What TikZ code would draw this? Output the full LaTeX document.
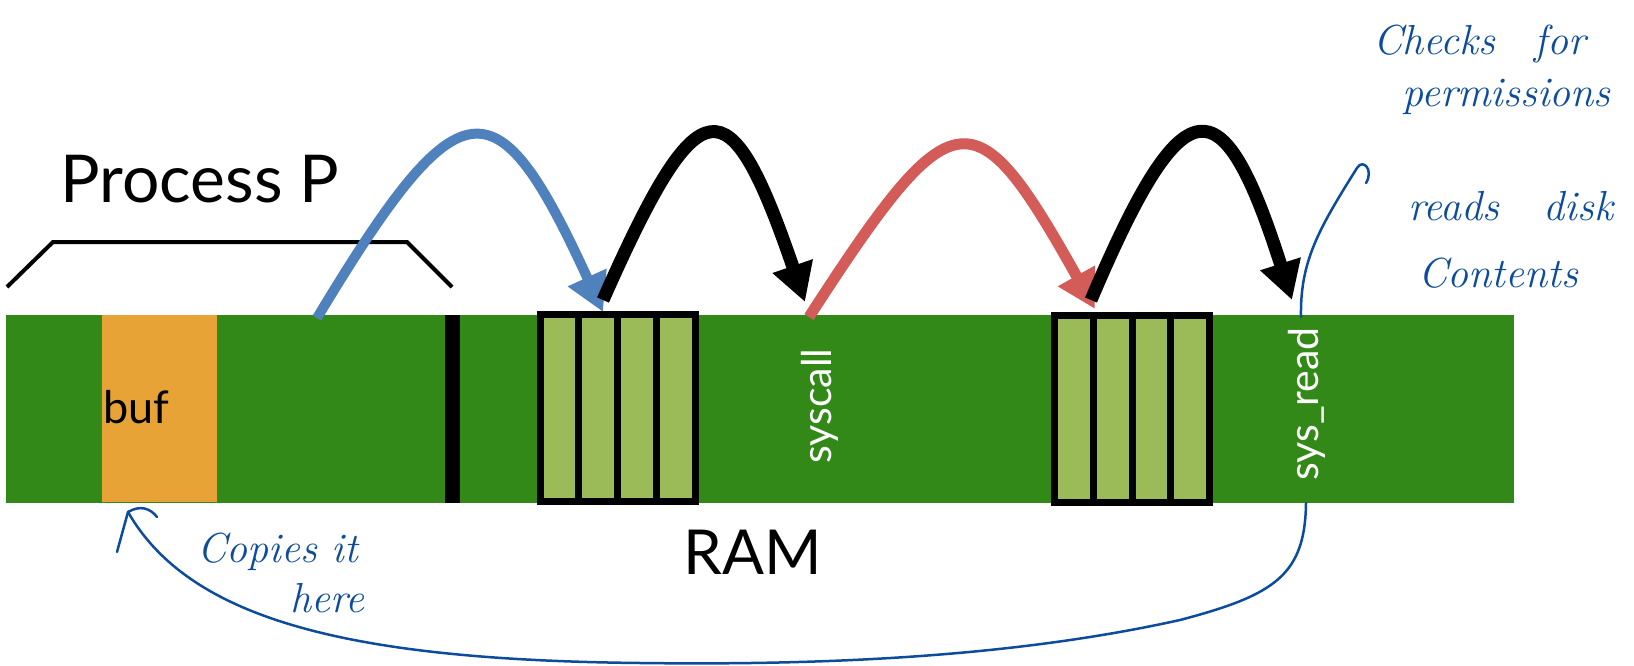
\documentclass[tikz,border=0pt]{standalone}
\usepackage{fontspec}
\newfontfamily\sansf{Lato}
\usetikzlibrary{arrows.meta,calc}
\definecolor{ramgreen}{RGB}{50,137,24}
\definecolor{cellgreen}{RGB}{155,187,89}
\definecolor{buforange}{RGB}{231,163,54}
\definecolor{arrblue}{RGB}{79,129,189}
\definecolor{arrred}{RGB}{212,92,88}
\definecolor{ink}{RGB}{13,76,156}
\begin{document}
\begin{tikzpicture}[x=1pt,y=-1pt,
  jump/.style={-{Triangle[length=38pt,width=40pt]}, line cap=butt},
  regbox/.style={draw=black, line width=7pt, fill=cellgreen, minimum width=155pt, minimum height=187pt, inner sep=0pt, outer sep=0pt},
  divider/.style={draw=black, line width=7pt},
  reglabel/.style={font=\sansf\fontsize{41}{48}\selectfont, text=white, rotate=90, inner sep=0pt},
  bigtext/.style={font=\sansf\fontsize{62}{70}\selectfont, inner sep=0pt, anchor=base},
  hand/.style={font=\itshape\fontsize{42}{50}\selectfont, text=ink, inner sep=0pt, anchor=base west},
  inkline/.style={draw=ink, line width=2.5pt, line cap=round, line join=round},
]
\useasboundingbox[fill=white] (0,0) rectangle (1634,666);

% RAM bar and its parts
\node[fill=ramgreen, minimum width=1508pt, minimum height=188pt, inner sep=0pt, outer sep=0pt] (ram) at (760,409) {};
\node[fill=buforange, minimum width=115pt, minimum height=187pt, inner sep=0pt, outer sep=0pt] (buf) at (159.5,408.5) {};
\node[font=\sansf\fontsize{45}{52}\selectfont, inner sep=0pt, anchor=base west] (buftext) at (103,423) {buf};
\node[fill=black, minimum width=15pt, minimum height=188pt, inner sep=0pt, outer sep=0pt] (sep) at (452.5,409) {};

\node[regbox] (reg1) at (617.5,408) {};
\node[regbox] (reg2) at (1132,409) {};
\foreach \r in {reg1,reg2}{
  \foreach \f in {0.25,0.5,0.75}{
    \draw[divider] ($(\r.north west)!\f!(\r.north east)$) -- ($(\r.south west)!\f!(\r.south east)$);
  }
}

\node[reglabel] (syscall) at (820,406) {syscall};
\node[reglabel] (sysread) at (1307,404) {sys\_read};

% Labels
\node[bigtext, font=\sansf\fontsize{66}{74}\selectfont] (procp) at (200,203) {Process P};
\node[bigtext] (ramlabel) at (753,574) {RAM};
\draw[line width=4pt] (7,287) -- (53,242) -- (407,242) -- (452,287);

% Jump arrows
\coordinate (bluefrom) at (317,318);
\coordinate (blueto) at (603,312);
\coordinate (k1from) at (603,300);
\coordinate (k1to) at (805,302);
\coordinate (redfrom) at (809,317);
\coordinate (redto) at (1095,309);
\coordinate (k2from) at (1091,300);
\coordinate (k2to) at (1292,300);

\draw[jump, color=arrblue, line width=10pt] (bluefrom) .. controls (461,79) and (496,79) .. (blueto);
\draw[jump, color=black, line width=13pt] (k1from) .. controls (700,81) and (729,81) .. (k1to);
\draw[jump, color=arrred, line width=11pt] (redfrom) .. controls (954,93) and (974,93) .. (redto);
\draw[jump, color=black, line width=13pt] (k2from) .. controls (1184,81) and (1222,81) .. (k2to);

% Handwritten notes
\node[hand] (checks) at (1373,55) {Checks\hspace{25pt} for};
\node[hand] (perm) at (1402,107) {permissions};
\node[hand] (reads) at (1408,220) {reads\hspace{30pt} disk};
\node[hand] (contents) at (1418,287) {Contents};
\node[hand] (copies) at (197,562) {Copies it};
\node[hand] (here) at (290,612) {here};

\coordinate (readtop) at (1301,317);
\coordinate (readbot) at (1306,503);
\coordinate (buftip) at (128,512);
\draw[inkline] (readtop) .. controls (1300,262) and (1318,230) .. (1357,168) .. controls (1363,158) and (1374,170) .. (1366,183);
\draw[inkline] (readbot) .. controls (1305,575) and (1275,595) .. (1180,620) .. controls (1000,660) and (800,665) .. (640,663) .. controls (350,660) and (190,620) .. (buftip);
\draw[inkline] (117,552) -- (buftip) .. controls (140,505) and (150,508) .. (157,517);
\end{tikzpicture}
\end{document}
